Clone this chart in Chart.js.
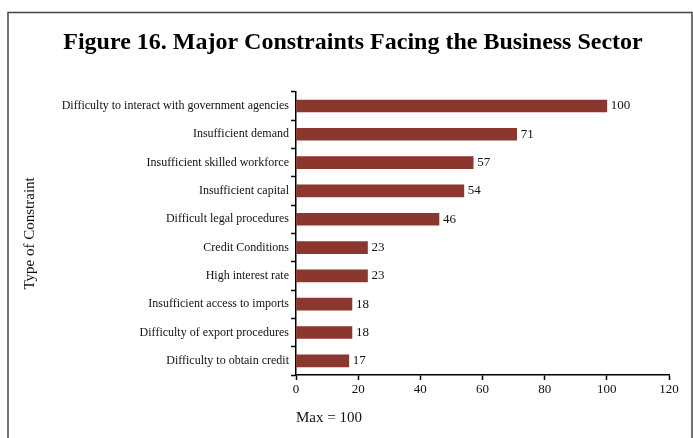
<!DOCTYPE html>
<html>
<head>
<meta charset="utf-8">
<script src="https://cdn.jsdelivr.net/npm/chart.js@4/dist/chart.umd.min.js"></script>
<style>
  html, body { margin: 0; padding: 0; background: #fff; }
  #wrap { width: 693px; height: 438px; }
</style>
</head>
<body>
<div id="wrap"><canvas id="c" width="693" height="438"></canvas></div>
<script>
// categories and values
const constraints = [
  'Difficulty to interact with government agencies',
  'Insufficient demand',
  'Insufficient skilled workforce',
  'Insufficient capital',
  'Difficult legal procedures',
  'Credit Conditions',
  'High interest rate',
  'Insufficient access to imports',
  'Difficulty of export procedures',
  'Difficulty to obtain credit'
];
const scores = [100, 71, 57, 54, 46, 23, 23, 18, 18, 17];
const xTicks = [0, 20, 40, 60, 80, 100, 120];

const SERIF = "'Liberation Serif', 'Times New Roman', serif";

// frame around the figure
const framePlugin = {
  id: 'frame',
  beforeDraw(chart) {
    const ctx = chart.ctx;
    ctx.save();
    ctx.fillStyle = '#fff';
    ctx.fillRect(0, 0, chart.width, chart.height);
    ctx.strokeStyle = '#444';
    ctx.lineWidth = 1.5;
    ctx.strokeRect(8, 12.5, 684, 500);
    ctx.restore();
  }
};

// value labels at end of bars
const valueLabels = {
  id: 'valueLabels',
  afterDatasetsDraw(chart) {
    const ctx = chart.ctx;
    const meta = chart.getDatasetMeta(0);
    ctx.save();
    ctx.font = '13px ' + SERIF;
    ctx.fillStyle = '#111';
    ctx.textBaseline = 'middle';
    meta.data.forEach((bar, i) => {
      ctx.fillText(scores[i], bar.x + 4, bar.y);
    });
    ctx.restore();
  }
};

new Chart(document.getElementById('c'), {
  type: 'bar',
  data: {
    labels: constraints,
    datasets: [{
      data: scores,
      backgroundColor: '#8c372d',
      barThickness: 12
    }]
  },
  options: {
    indexAxis: 'y',
    responsive: false,
    animation: false,
    layout: { padding: { left: 37, right: 24, top: 0, bottom: 10 } },
    plugins: {
      legend: { display: false },
      tooltip: { enabled: false },
      title: {
        display: true,
        text: 'Figure 16. Major Constraints Facing the Business Sector',
        color: '#000',
        font: { family: SERIF, size: 24, weight: 'bold' },
        padding: { top: 28, bottom: 35 }
      }
    },
    scales: {
      x: {
        min: 0,
        max: 120,
        afterBuildTicks: s => { s.ticks = xTicks.map(v => ({ value: v })); },
        afterFit: s => { s.height = 53; },
        grid: { drawOnChartArea: false, drawTicks: true, tickLength: 5, tickColor: '#000', tickWidth: 1.5 },
        border: { display: true, color: '#000', width: 1.5 },
        ticks: { color: '#111', font: { family: SERIF, size: 13 }, padding: 2 },
        title: {
          display: true,
          text: 'Max = 100',
          align: 'start',
          color: '#111',
          font: { family: SERIF, size: 15 },
          padding: { top: 4, bottom: 1 }
        }
      },
      y: {
        afterFit: s => { s.width = 259; },
        grid: { offset: true, drawOnChartArea: false, drawTicks: true, tickLength: 5, tickColor: '#000', tickWidth: 1.5 },
        border: { display: true, color: '#000', width: 1.5 },
        ticks: { color: '#111', font: { family: SERIF, size: 12 }, padding: 2 },
        title: {
          display: true,
          text: 'Type of Constraint',
          color: '#111',
          font: { family: SERIF, size: 15 },
          padding: { top: -16, bottom: 0 }
        }
      }
    }
  },
  plugins: [framePlugin, valueLabels]
});
</script>
</body>
</html>
